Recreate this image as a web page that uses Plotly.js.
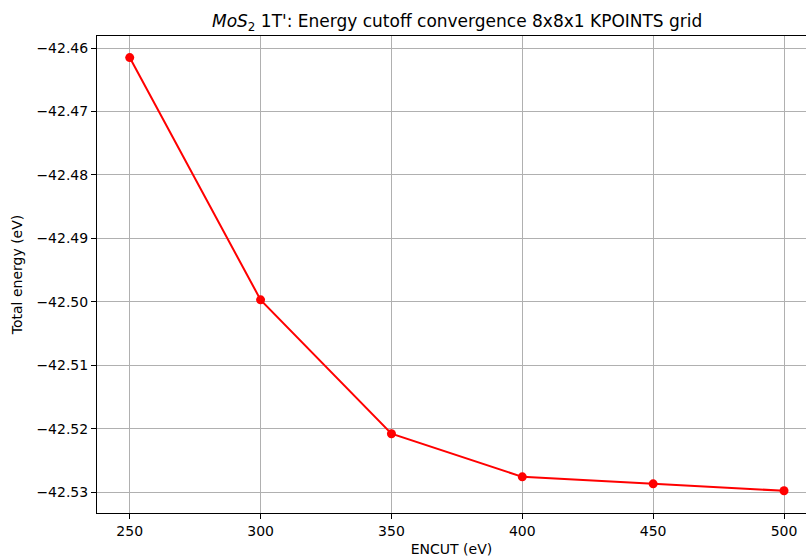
<!DOCTYPE html>
<html>
<head>
<meta charset="utf-8">
<script src="https://cdn.plot.ly/plotly-3.0.1.min.js"></script>
<style>html,body{margin:0;padding:0;background:#fff;}#chart{width:806px;height:557px;}</style>
</head>
<body>
<div id="chart"></div>
<script>
const encut = [250, 300, 350, 400, 450, 500];
const totalEnergy = [-42.4615, -42.4997, -42.5208, -42.5276, -42.5287, -42.5298];
const yTicks = [-42.46, -42.47, -42.48, -42.49, -42.50, -42.51, -42.52, -42.53];
const xTicks = [250, 300, 350, 400, 450, 500];

const font = {family: 'DejaVu Sans, sans-serif', size: 14, color: '#000'};

Plotly.newPlot('chart', [{
  x: encut, y: totalEnergy, type: 'scatter', mode: 'lines+markers',
  line: {color: '#ff0000', width: 2},
  marker: {color: '#ff0000', size: 9},
  hoverinfo: 'skip'
}], {
  width: 806, height: 557,
  margin: {l: 97, r: 0, t: 36, b: 44},
  paper_bgcolor: '#fff', plot_bgcolor: '#fff',
  font: font,
  showlegend: false,
  title: {
    text: "<i>MoS</i><sub>2</sub> 1T': Energy cutoff convergence 8x8x1 KPOINTS grid",
    font: {family: 'DejaVu Sans, sans-serif', size: 17, color: '#000'},
    x: 0.508, xref: 'paper', xanchor: 'center', y: 0.962, yref: 'container', yanchor: 'middle'
  },
  xaxis: {
    range: [237.5, 508.4],
    tickvals: xTicks, ticktext: xTicks.map(String),
    ticks: 'outside', ticklen: 5, tickwidth: 1, tickcolor: '#000',
    showline: true, linecolor: '#000', linewidth: 1, mirror: true,
    showgrid: true, gridcolor: '#b0b0b0', gridwidth: 1, zeroline: false,
    tickfont: font,
    title: {text: 'ENCUT (eV)', font: font, standoff: 6}
  },
  yaxis: {
    range: [-42.5333, -42.4581],
    tickvals: yTicks, ticktext: yTicks.map(v => '\u2212' + Math.abs(v).toFixed(2)),
    ticks: 'outside', ticklen: 5, tickwidth: 1, tickcolor: '#000',
    showline: true, linecolor: '#000', linewidth: 1, mirror: false,
    showgrid: true, gridcolor: '#b0b0b0', gridwidth: 1, zeroline: false,
    tickfont: font,
    title: {text: 'Total energy (eV)', font: font, standoff: 10}
  }
}, {staticPlot: true});
</script>
</body>
</html>
